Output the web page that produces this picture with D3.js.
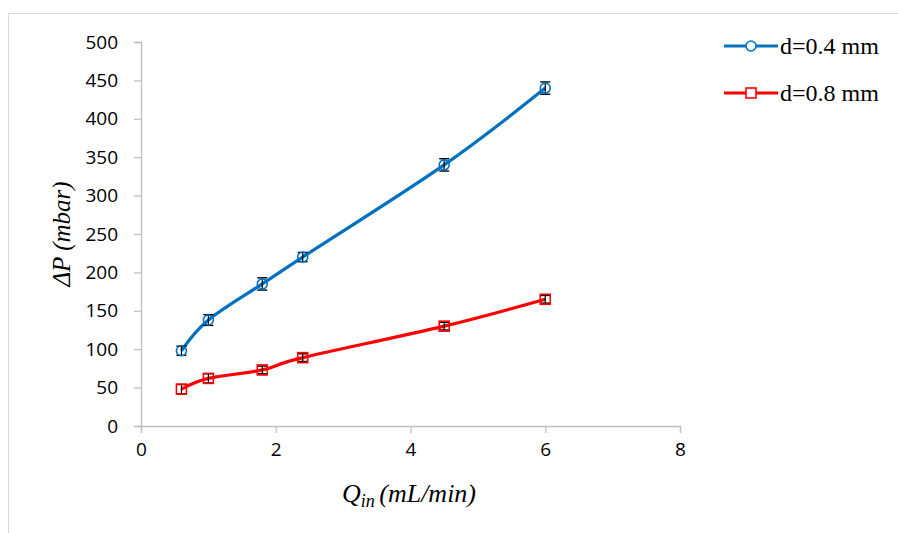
<!DOCTYPE html>
<html><head><meta charset="utf-8">
<script src="https://cdn.jsdelivr.net/npm/d3@7"></script>
<style>body{margin:0;background:#fff}svg{display:block}</style>
</head><body>
<svg id="c" width="898" height="533"></svg>
<script>
const xValues = [0.6, 1, 1.8, 2.4, 4.5, 6];
const seriesNames = ["d=0.4 mm", "d=0.8 mm"];
const blueValues = [98, 138, 185, 220, 340, 440];
const redValues = [48, 62, 73, 89, 130, 165];
const blueErrors = [6, 7, 8, 6, 8, 8];
const redErrors = [6, 6, 5, 5, 5, 5];
const xTicks = [0, 2, 4, 6, 8];
const yTicks = [0, 50, 100, 150, 200, 250, 300, 350, 400, 450, 500];

const svg = d3.select("#c");
const x = d3.scaleLinear().domain([0, 8]).range([141, 680]);
const y = d3.scaleLinear().domain([0, 500]).range([426, 42]);

svg.append("rect").attr("x", 8.5).attr("y", 13.5).attr("width", 900).attr("height", 540)
  .attr("fill", "none").attr("stroke", "#d9d9d9");

const axisColor = "#bfbfbf";
const tickFont = "'Open Sans', Lato, sans-serif";
const serif = "'Liberation Serif', 'Times New Roman', serif";

const yAxis = svg.append("g").attr("transform", "translate(141,0)")
  .call(d3.axisLeft(y).tickValues(yTicks).tickSize(7).tickPadding(16));
const xAxis = svg.append("g").attr("transform", "translate(0,426)")
  .call(d3.axisBottom(x).tickValues(xTicks).tickSize(7).tickPadding(8));
[yAxis, xAxis].forEach(a => {
  a.selectAll("path.domain").attr("stroke", axisColor).attr("stroke-width", 1.3);
  a.selectAll(".tick line").attr("stroke", axisColor).attr("stroke-width", 1.3);
  a.selectAll(".tick text").attr("fill", "#000").style("font-family", tickFont).style("font-size", "19px");
});
xAxis.selectAll(".tick text").attr("dy", "0.8em");

svg.append("text").attr("transform", "translate(70,234) rotate(-90)")
  .attr("text-anchor", "middle").style("font-family", serif)
  .style("font-style", "italic").style("font-size", "25px")
  .text("ΔP (mbar)");
const xt = svg.append("text").attr("x", 409).attr("y", 502).attr("text-anchor", "middle")
  .style("font-family", serif).style("font-style", "italic").style("font-size", "26px");
xt.append("tspan").text("Q");
xt.append("tspan").attr("dy", 5).style("font-size", "18px").text("in ");
xt.append("tspan").attr("dy", -5).text("(mL/min)");

const series = [
  {name: seriesNames[0], vals: blueValues, err: blueErrors, color: "#0070c0", shape: "circle"},
  {name: seriesNames[1], vals: redValues, err: redErrors, color: "#ff0000", shape: "square"}
];

const line = d3.line().x(d => x(d[0])).y(d => y(d[1])).curve(d3.curveCardinal.tension(0));

series.forEach(s => {
  const pts = xValues.map((v, i) => [v, s.vals[i], s.err[i]]);
  svg.append("path").datum(pts).attr("d", line).attr("fill", "none")
    .attr("stroke", s.color).attr("stroke-width", 3.2);
  const g = svg.append("g");
  pts.forEach(p => {
    const cx = x(p[0]);
    g.append("line").attr("x1", cx).attr("x2", cx).attr("y1", y(p[1] + p[2])).attr("y2", y(p[1] - p[2]))
      .attr("stroke", "#000").attr("stroke-width", 1.2);
    [p[1] + p[2], p[1] - p[2]].forEach(v => g.append("line").attr("x1", cx - 5).attr("x2", cx + 5)
      .attr("y1", y(v)).attr("y2", y(v)).attr("stroke", "#000").attr("stroke-width", 1.4));
    if (s.shape === "circle") {
      g.append("circle").attr("cx", cx).attr("cy", y(p[1])).attr("r", 5)
        .attr("fill", "none").attr("stroke", s.color).attr("stroke-width", 1.6);
    } else {
      g.append("rect").attr("x", cx - 5).attr("y", y(p[1]) - 5).attr("width", 10).attr("height", 10)
        .attr("fill", "none").attr("stroke", s.color).attr("stroke-width", 1.6);
    }
  });
});

series.forEach((s, i) => {
  const ly = 46 + i * 47;
  svg.append("line").attr("x1", 724).attr("x2", 778).attr("y1", ly).attr("y2", ly)
    .attr("stroke", s.color).attr("stroke-width", 3.2);
  if (s.shape === "circle") {
    svg.append("circle").attr("cx", 751).attr("cy", ly).attr("r", 5).attr("fill", "#fff")
      .attr("stroke", s.color).attr("stroke-width", 1.6);
  } else {
    svg.append("rect").attr("x", 746).attr("y", ly - 5).attr("width", 10).attr("height", 10).attr("fill", "#fff")
      .attr("stroke", s.color).attr("stroke-width", 1.6);
  }
  svg.append("text").attr("x", 780).attr("y", ly).attr("dy", "0.35em")
    .style("font-family", serif).style("font-size", "24px").text(s.name);
});
</script>
</body></html>
